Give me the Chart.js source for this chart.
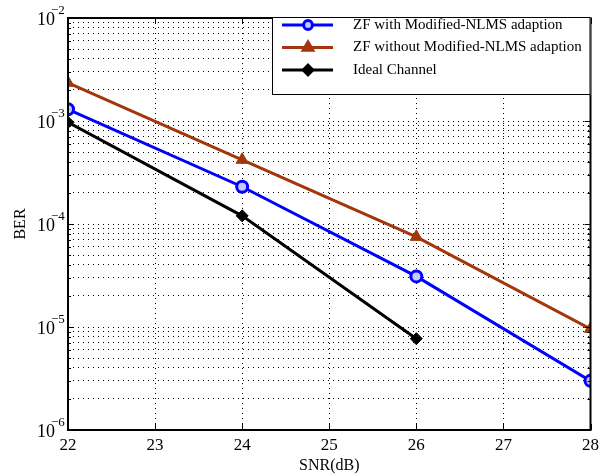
<!DOCTYPE html>
<html lang="en">
<head>
    <meta charset="UTF-8">
    <script src="https://cdn.jsdelivr.net/npm/chart.js"></script>
    <title>BER vs SNR</title>
    <style>
        html, body { margin: 0; padding: 0; background: #fff; }
        #wrap { width: 599px; height: 476px; }
    </style>
</head>
<body>
    <div id="wrap">
        <canvas id="myChart" width="599" height="476"></canvas>
    </div>

    <script>
        // data
        const snr = [22, 24, 26, 28];
        const berWithNlms = [1.3e-3, 2.3e-4, 3.1e-5, 3.0e-6];
        const berWithoutNlms = [2.35e-3, 4.2e-4, 7.5e-5, 9.6e-6];
        const snrIdeal = [22, 24, 26];
        const berIdeal = [0.97e-3, 1.2e-4, 7.7e-6];

        const xTicks = [22, 23, 24, 25, 26, 27, 28];
        const yExponents = [-6, -5, -4, -3, -2];
        const minorSteps = [1, 2, 3, 4, 5, 6, 7, 8, 9];

        const labels = ['ZF with Modified-NLMS adaption', 'ZF without Modified-NLMS adaption', 'Ideal Channel'];

        const FONT = '"Liberation Serif", "Times New Roman", serif';

        // frame, inner ticks, y labels with exponents, legend box
        const matlabLook = {
            id: 'matlabLook',
            afterDatasetsDraw(chart) {
                const ctx = chart.ctx;
                const a = chart.chartArea;
                const xs = chart.scales.x, ys = chart.scales.y;
                ctx.save();
                ctx.strokeStyle = '#000';
                ctx.lineWidth = 1;
                // inner ticks
                ctx.beginPath();
                xTicks.forEach(v => {
                    const px = Math.round(xs.getPixelForValue(v)) + 0.5;
                    ctx.moveTo(px, a.bottom); ctx.lineTo(px, a.bottom - 6);
                    ctx.moveTo(px, a.top); ctx.lineTo(px, a.top + 6);
                });
                ys.ticks.forEach(t => {
                    const py = Math.round(ys.getPixelForValue(t.value)) + 0.5;
                    const len = t.major ? 6 : 3;
                    ctx.moveTo(a.left, py); ctx.lineTo(a.left + len, py);
                    ctx.moveTo(a.right, py); ctx.lineTo(a.right - len, py);
                });
                ctx.stroke();
                // frame
                ctx.lineWidth = 2;
                ctx.strokeRect(a.left, a.top, a.right - a.left, a.bottom - a.top);

                // y tick labels 10^n
                ctx.fillStyle = '#000';
                ctx.textBaseline = 'alphabetic';
                yExponents.forEach(e => {
                    const py = ys.getPixelForValue(Math.pow(10, e));
                    ctx.font = '18px ' + FONT;
                    ctx.textAlign = 'left';
                    ctx.fillText('10', 37, py + 7);
                    ctx.font = '13px ' + FONT;
                    ctx.fillText('\u2212' + Math.abs(e), 51, py - 4);
                });

                // legend
                const lx = 272, ly = 17, lw = a.right - 272, lh = 78;
                ctx.fillStyle = '#fff';
                ctx.fillRect(lx, ly, lw, lh);
                ctx.lineWidth = 1;
                ctx.strokeRect(lx + 0.5, ly + 0.5, lw - 1, lh - 1);
                chart.data.datasets.forEach((ds, i) => {
                    const cy = ly + 8 + i * 22.5;
                    ctx.strokeStyle = ds.borderColor;
                    ctx.fillStyle = ds.pointBackgroundColor;
                    ctx.lineWidth = 3;
                    ctx.beginPath();
                    ctx.moveTo(282, cy); ctx.lineTo(333, cy);
                    ctx.stroke();
                    Chart.helpers.drawPoint(ctx, {
                        pointStyle: ds.pointStyle,
                        radius: ds.pointRadius * 0.8,
                        borderWidth: 2
                    }, 308, cy);
                    ctx.fillStyle = '#000';
                    ctx.font = '15px ' + FONT;
                    ctx.textAlign = 'left';
                    ctx.textBaseline = 'middle';
                    ctx.fillText(ds.label, 353, cy);
                });
                ctx.restore();
            }
        };

        const ctx = document.getElementById('myChart').getContext('2d');
        const myChart = new Chart(ctx, {
            type: 'line',
            data: {
                datasets: [{
                    label: labels[0],
                    data: snr.map((x, i) => ({ x: x, y: berWithNlms[i] })),
                    borderColor: '#0000ff',
                    backgroundColor: '#ffffff',
                    borderWidth: 3,
                    pointStyle: 'circle',
                    pointRadius: 5.5,
                    pointBorderWidth: 3,
                    pointBackgroundColor: 'rgba(200,200,255,1)'
                }, {
                    label: labels[1],
                    data: snr.map((x, i) => ({ x: x, y: berWithoutNlms[i] })),
                    borderColor: '#a3360a',
                    backgroundColor: '#a3360a',
                    borderWidth: 3,
                    pointStyle: 'triangle',
                    pointRadius: 7,
                    pointBorderWidth: 1,
                    pointBackgroundColor: '#a3360a'
                }, {
                    label: labels[2],
                    data: snrIdeal.map((x, i) => ({ x: x, y: berIdeal[i] })),
                    borderColor: '#000000',
                    backgroundColor: '#000000',
                    borderWidth: 3,
                    pointStyle: 'rectRot',
                    pointRadius: 6,
                    pointBorderWidth: 1,
                    pointBackgroundColor: '#000000'
                }]
            },
            options: {
                responsive: false,
                animation: false,
                layout: { padding: { top: 18, right: 0, left: 0, bottom: 0 } },
                elements: { line: { tension: 0 } },
                scales: {
                    x: {
                        type: 'linear',
                        min: 22,
                        max: 28,
                        afterBuildTicks: s => { s.ticks = xTicks.map(v => ({ value: v })); },
                        afterFit: s => { s.height = 46; s.paddingRight = 7; },
                        grid: { color: '#000', lineWidth: 1, drawTicks: false },
                        border: { display: false, dash: [1, 4] },
                        ticks: {
                            color: '#000',
                            padding: 5,
                            maxRotation: 0,
                            font: { family: FONT, size: 17 }
                        },
                        title: {
                            display: true,
                            text: 'SNR(dB)',
                            color: '#000',
                            padding: { top: 0, bottom: 1 },
                            font: { family: FONT, size: 16 }
                        }
                    },
                    y: {
                        type: 'logarithmic',
                        min: 1e-6,
                        max: 1e-2,
                        afterBuildTicks: s => {
                            const t = [];
                            yExponents.forEach(e => {
                                minorSteps.forEach(m => {
                                    const v = m * Math.pow(10, e);
                                    if (v <= 1e-2 * 1.0001) t.push({ value: v, major: m === 1 });
                                });
                            });
                            s.ticks = t;
                        },
                        afterFit: s => { s.width = 68; },
                        grid: { color: '#000', lineWidth: 1, drawTicks: false },
                        border: { display: false, dash: [1, 4] },
                        ticks: { display: false },
                        title: {
                            display: true,
                            text: 'BER',
                            color: '#000',
                            padding: { top: 11, bottom: 0 },
                            font: { family: FONT, size: 16 }
                        }
                    }
                },
                plugins: {
                    legend: { display: false },
                    tooltip: { enabled: false }
                }
            },
            plugins: [matlabLook]
        });
    </script>
</body>
</html>
